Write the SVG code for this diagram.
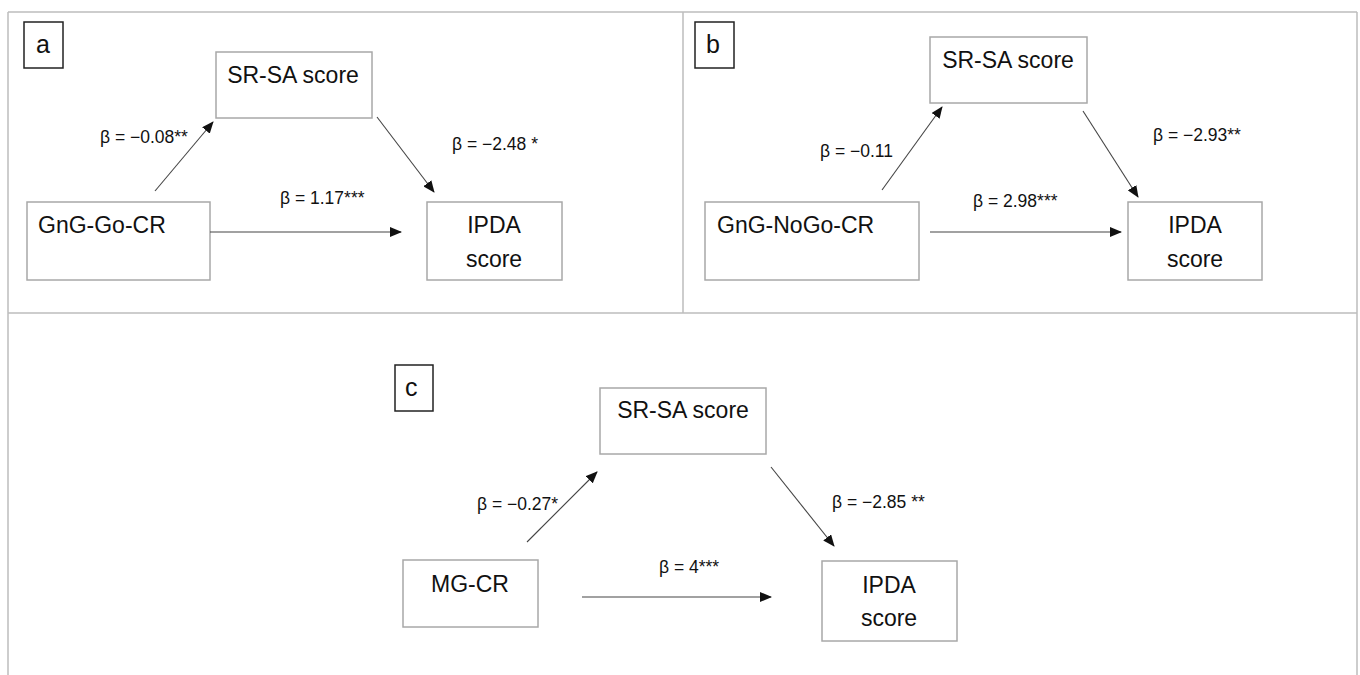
<svg xmlns="http://www.w3.org/2000/svg" width="1360" height="675" viewBox="0 0 1360 675">
<style>
.frame{fill:none;stroke:#bdbdbd;stroke-width:1.5}
.node{fill:#fff;stroke:#a8a8a8;stroke-width:1.5}
.tag{fill:#fff;stroke:#222;stroke-width:1.5}
.nt{font-family:"Liberation Sans",Arial,sans-serif;font-size:23px;fill:#111}
.tt{font-family:"Liberation Sans",Arial,sans-serif;font-size:25px;fill:#111}
.bt{font-family:"Liberation Sans",Arial,sans-serif;font-size:17.5px;fill:#111}
.edge{stroke:#444;stroke-width:1.1;fill:none;marker-end:url(#ah)}
</style>
<defs>
<marker id="ah" viewBox="0 0 12 10" refX="11" refY="5" markerWidth="12" markerHeight="10" markerUnits="userSpaceOnUse" orient="auto">
<path d="M0,0 L12,5 L0,10 z" fill="#111"/>
</marker>
</defs>
<rect width="1360" height="675" fill="#fff"/>
<g id="frames">
<line class="frame" x1="8" y1="12" x2="1357" y2="12"/>
<line class="frame" x1="8" y1="12" x2="8" y2="675"/>
<line class="frame" x1="1357" y1="12" x2="1357" y2="675"/>
<line class="frame" x1="8" y1="313" x2="1357" y2="313"/>
<line class="frame" x1="683" y1="12" x2="683" y2="313"/>
</g>
<g id="panel-a">
<g id="tag-a"><rect class="tag" x="24" y="22" width="39" height="46"/><text class="tt" x="36" y="53">a</text></g>
<g id="a-srsa"><rect class="node" x="216" y="52" width="156" height="66"/><text class="nt" x="293" y="83" text-anchor="middle">SR-SA score</text></g>
<g id="a-gng"><rect class="node" x="27" y="202" width="183" height="78"/><text class="nt" x="38" y="233">GnG-Go-CR</text></g>
<g id="a-ipda"><rect class="node" x="427" y="202" width="135" height="78"/><text class="nt" x="494" y="233" text-anchor="middle">IPDA</text><text class="nt" x="494" y="267" text-anchor="middle">score</text></g>
</g>
<g id="panel-b">
<g id="tag-b"><rect class="tag" x="695" y="22" width="39" height="46"/><text class="tt" x="706" y="53">b</text></g>
<g id="b-srsa"><rect class="node" x="930" y="37" width="157" height="66"/><text class="nt" x="1008" y="68" text-anchor="middle">SR-SA score</text></g>
<g id="b-gng"><rect class="node" x="705" y="202" width="214" height="78"/><text class="nt" x="717" y="233">GnG-NoGo-CR</text></g>
<g id="b-ipda"><rect class="node" x="1128" y="202" width="134" height="78"/><text class="nt" x="1195" y="233" text-anchor="middle">IPDA</text><text class="nt" x="1195" y="267" text-anchor="middle">score</text></g>
</g>
<g id="panel-c">
<g id="tag-c"><rect class="tag" x="395" y="365" width="38" height="46"/><text class="tt" x="405" y="396">c</text></g>
<g id="c-srsa"><rect class="node" x="600" y="388" width="166" height="66"/><text class="nt" x="683" y="418" text-anchor="middle">SR-SA score</text></g>
<g id="c-mg"><rect class="node" x="403" y="560" width="135" height="67"/><text class="nt" x="470" y="592" text-anchor="middle">MG-CR</text></g>
<g id="c-ipda"><rect class="node" x="822" y="561" width="135" height="80"/><text class="nt" x="889" y="593" text-anchor="middle">IPDA</text><text class="nt" x="889" y="626" text-anchor="middle">score</text></g>
</g>
<g id="connectors">
<line class="edge" x1="155" y1="191" x2="213" y2="122"/>
<line class="edge" x1="377" y1="117" x2="434" y2="192"/>
<line class="edge" x1="210" y1="232" x2="401" y2="232"/>
<line class="edge" x1="882" y1="190" x2="942" y2="107"/>
<line class="edge" x1="1083" y1="111" x2="1138" y2="197"/>
<line class="edge" x1="930" y1="232" x2="1121" y2="232"/>
<line class="edge" x1="527" y1="542" x2="597" y2="472"/>
<line class="edge" x1="771" y1="467" x2="834" y2="546"/>
<line class="edge" x1="582" y1="597" x2="771" y2="597"/>
</g>
<g id="edge-labels">
<text class="bt" x="100" y="143">β = −0.08**</text>
<text class="bt" x="452" y="150">β = −2.48 *</text>
<text class="bt" x="280" y="204">β = 1.17***</text>
<text class="bt" x="820" y="157">β = −0.11</text>
<text class="bt" x="1153" y="141">β = −2.93**</text>
<text class="bt" x="973" y="207">β = 2.98***</text>
<text class="bt" x="477" y="510">β = −0.27*</text>
<text class="bt" x="832" y="508">β = −2.85 **</text>
<text class="bt" x="659" y="573">β = 4***</text>
</g>
</svg>
